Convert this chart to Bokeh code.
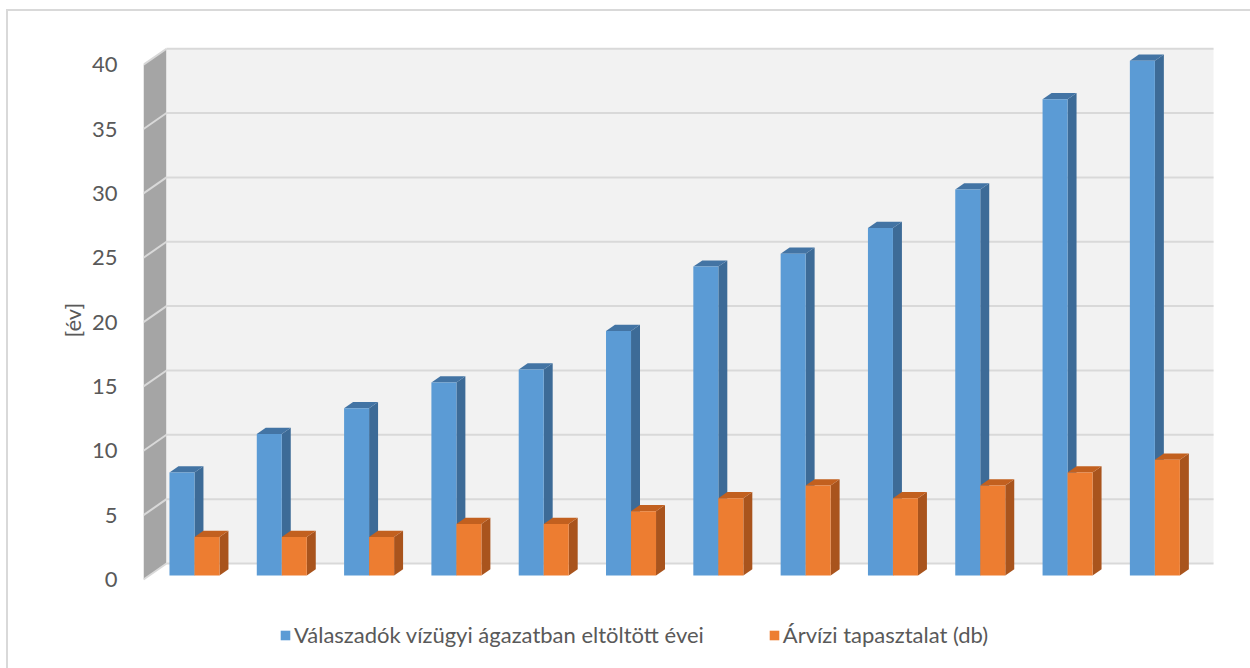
import numpy as np
from bokeh.plotting import figure
from bokeh.models import Range1d, FixedTicker, Legend, LegendItem, Title
from bokeh.embed import file_html
from bokeh.resources import INLINE

# ---------------- data ----------------
categories = [str(i) for i in range(1, 13)]
years_in_sector = [8, 11, 13, 15, 16, 19, 24, 25, 27, 30, 37, 40]
flood_experience = [3, 3, 3, 4, 4, 5, 6, 7, 6, 7, 8, 9]
series_names = ["Válaszadók vízügyi ágazatban eltöltött évei", "Árvízi tapasztalat (db)"]
y_ticks = [0, 5, 10, 15, 20, 25, 30, 35, 40]
y_label = "[év]"

# ---------------- styling / layout ----------------
BLUE, BLUE_SIDE, BLUE_TOP = "#5b9bd5", "#3d6b97", "#4374a4"
ORANGE, ORANGE_SIDE, ORANGE_TOP = "#ed7d31", "#a9541d", "#c2601f"
TEXT = "#595959"
FONT = "Lato"
FS = "22px"

X0, X1 = -0.518, 11.932      # frame x range (category units)
Y0, Y1 = -6.915, 41.88       # frame y range (value units)
DX, DY = 0.2635, 1.243       # full depth offset of the walls
D_FRONT, D_BACK = 0.25, 0.64 # bar depth position
BAR_W = 0.2864
WALL_LEFT = -0.518
WALL_RIGHT = 11.738
WALL_TOP = y_ticks[-1]

p = figure(width=1250, height=668, x_range=Range1d(X0, X1), y_range=Range1d(Y0, Y1),
           x_axis_type=None, output_backend="svg", toolbar_location=None,
           min_border_left=143, min_border_right=20, min_border_top=40, min_border_bottom=0)
p.xgrid.visible = False
p.ygrid.visible = False
p.outline_line_color = None
p.background_fill_color = "white"
p.border_fill_color = None

# walls
p.patch([WALL_LEFT, WALL_LEFT + DX, WALL_LEFT + DX, WALL_LEFT],
        [0, DY, WALL_TOP + DY, WALL_TOP], fill_color="#a5a5a5", line_color=None)
p.quad(left=[WALL_LEFT + DX], right=[WALL_RIGHT], bottom=[DY], top=[WALL_TOP + DY],
       fill_color="#f2f2f2", line_color=None)

gy = np.array(y_ticks, dtype=float)
p.segment(x0=[WALL_LEFT + DX] * len(gy), y0=gy + DY, x1=[WALL_RIGHT] * len(gy), y1=gy + DY,
          line_color="#d9d9d9", line_width=2)
p.segment(x0=[WALL_LEFT] * len(gy), y0=gy, x1=[WALL_LEFT + DX] * len(gy), y1=gy + DY,
          line_color="#d9d9d9", line_width=2)

idx = np.arange(len(categories), dtype=float)


def draw_bars(values, left_off, front, side, top):
    v = np.array(values, dtype=float)
    xl = idx + left_off
    xr = xl + BAR_W
    fx0, fy0 = D_FRONT * DX, D_FRONT * DY
    bx0, by0 = D_BACK * DX, D_BACK * DY
    side_xs = [[a + fx0, a + bx0, a + bx0, a + fx0] for a in xr]
    side_ys = [[fy0, by0, h + by0, h + fy0] for h in v]
    p.patches(side_xs, side_ys, fill_color=side, line_color=None)
    top_xs = [[a + fx0, b + fx0, b + bx0, a + bx0] for a, b in zip(xl, xr)]
    top_ys = [[h + fy0, h + fy0, h + by0, h + by0] for h in v]
    p.patches(top_xs, top_ys, fill_color=top, line_color=None)
    return p.quad(left=xl + fx0, right=xr + fx0, bottom=[fy0] * len(v), top=v + fy0,
                  fill_color=front, line_color=None)


r_blue = draw_bars(years_in_sector, -BAR_W, BLUE, BLUE_SIDE, BLUE_TOP)
r_orange = draw_bars(flood_experience, 0.0, ORANGE, ORANGE_SIDE, ORANGE_TOP)

# y axis
ax = p.yaxis[0]
ax.ticker = FixedTicker(ticks=y_ticks)
ax.axis_line_color = None
ax.major_tick_line_color = None
ax.minor_tick_line_color = None
ax.major_label_standoff = 20
ax.major_label_text_font = FONT
ax.major_label_text_font_size = FS
ax.major_label_text_color = TEXT

# y axis title (positioned so it is centred on the 0-40 scale)
p.add_layout(Title(text=y_label, align="left", offset=331, standoff=6,
                   text_font=FONT, text_font_size=FS, text_font_style="normal",
                   text_color=TEXT), "left")

legend = Legend(items=[LegendItem(label=series_names[0], renderers=[r_blue]),
                       LegendItem(label=series_names[1], renderers=[r_orange])],
                location=(136, 20), orientation="horizontal", padding=0, margin=0,
                border_line_color=None, background_fill_alpha=0, glyph_width=12,
                glyph_height=12, label_standoff=3, spacing=64, label_height=12,
                label_text_font=FONT, label_text_font_size=FS, label_text_color=TEXT)
p.add_layout(legend)

line = "linear-gradient(#d9d9d9,#d9d9d9)"
p.styles = {"background": f"{line} 6px 9px / 1244px 2px no-repeat, "
                          f"{line} 6px 9px / 2px 659px no-repeat, #ffffff"}

open("out.html", "w").write(file_html(p, INLINE))
